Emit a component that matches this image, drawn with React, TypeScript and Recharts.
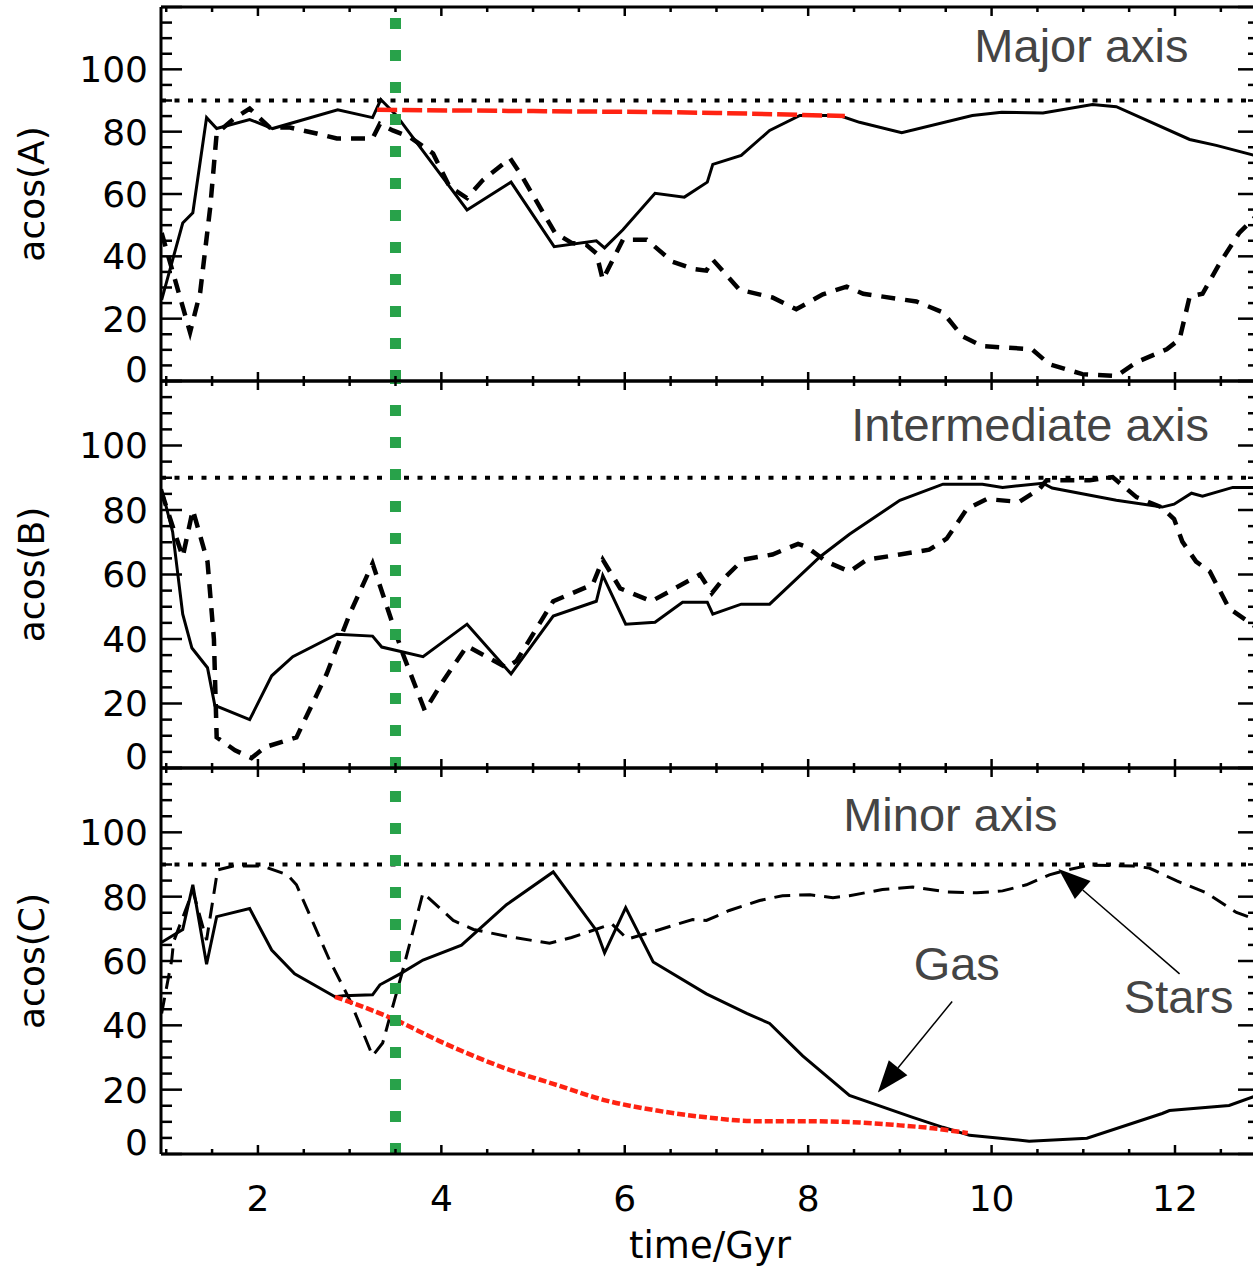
import React from "react";
import { LineChart, Line, XAxis, YAxis, ReferenceLine, ReferenceDot } from "recharts";

type Pt = [number, number];

// axis ticks (time in Gyr, angle in degrees)
const timeTicks = [1, 1.5, 2, 2.5, 3, 3.5, 4, 4.5, 5, 5.5, 6, 6.5, 7, 7.5, 8, 8.5, 9, 9.5, 10, 10.5, 11, 11.5, 12, 12.5];
const timeLabels = [2, 4, 6, 8, 10, 12];
const angleTicks = [0, 5, 10, 15, 20, 25, 30, 35, 40, 45, 50, 55, 60, 65, 70, 75, 80, 85, 90, 95, 100, 105, 110, 115, 120];
const angleLabels = [0, 20, 40, 60, 80, 100];
const timeDomain = [0.943, 12.916];
const angleDomain = [0, 120];
const perpendicular = 90;
const transitionTime = 3.5;

// major axis
const majorGas: Pt[] = [
  [0.95, 26], [1.18, 50.7], [1.29, 54], [1.44, 84.5], [1.55, 81], [1.91, 83.9], [2.16, 81], [2.87, 87],
  [3.25, 84.5], [3.34, 90.3], [3.51, 85.2], [4.28, 54.9], [4.76, 63.8], [5.23, 43.1], [5.69, 45], [5.78, 42.7],
  [5.98, 48.5], [6.33, 60.2], [6.65, 59], [6.9, 63.8], [6.96, 69.5], [7.27, 72.4], [7.58, 80.4], [7.91, 85.2],
  [8.34, 85.2], [8.56, 83], [9.02, 79.7], [9.79, 85.2], [10.11, 86.2], [10.56, 86], [11.1, 88.7], [11.36, 88],
  [12.16, 77.5], [12.45, 75.6], [12.92, 72]
];
const majorStars: Pt[] = [
  [0.95, 47.5], [1.26, 15.6], [1.37, 28.4], [1.48, 55.8], [1.55, 79.4], [1.73, 84], [1.91, 87.4], [2.13, 81.3],
  [2.35, 81.3], [2.64, 79.4], [2.86, 77.8], [3.25, 77.8], [3.33, 82.5], [3.47, 80.4], [3.66, 78.2], [3.91, 73],
  [4.09, 62.3], [4.28, 58.7], [4.45, 64.4], [4.75, 71.4], [4.86, 66.6], [5.24, 47.5], [5.42, 44.3], [5.58, 43.7],
  [5.69, 41], [5.76, 32.5], [5.98, 45.3], [6.24, 45.3], [6.52, 38.3], [6.74, 36], [6.89, 35.4], [6.96, 38.9],
  [7.25, 29.3], [7.61, 26.8], [7.87, 23], [8.16, 27.8], [8.42, 30.3], [8.6, 28], [9.18, 25.5], [9.47, 22],
  [9.68, 14.4], [9.9, 11.2], [10.44, 10.2], [10.63, 5.4], [10.99, 2.2], [11.36, 1.6], [11.58, 6], [11.91, 10.2],
  [12.05, 13.4], [12.16, 27.1], [12.3, 28], [12.49, 37.9], [12.7, 47.5], [12.92, 54]
];
const majorFit: Pt[] = [[3.3, 87], [5, 86.6], [7, 86], [8.4, 85]];

// intermediate axis
const interGas: Pt[] = [
  [0.95, 86.5], [1.07, 73.2], [1.18, 47.7], [1.28, 37.2], [1.45, 31.1], [1.53, 19.4], [1.91, 15], [2.15, 28.6],
  [2.38, 34.5], [2.86, 41.5], [3.25, 40.9], [3.35, 37.5], [3.8, 34.5], [4.28, 44.6], [4.76, 29.2], [5.22, 47.1],
  [5.69, 51.7], [5.76, 59.7], [6.01, 44.6], [6.33, 45.2], [6.63, 51.4], [6.9, 51.4], [6.96, 47.7], [7.27, 50.8],
  [7.58, 50.8], [8.13, 65.5], [8.45, 72.5], [9.0, 83], [9.47, 88], [9.9, 88], [10.12, 87], [10.56, 88.3],
  [10.66, 86.8], [11.36, 83], [11.86, 80.9], [11.99, 81.8], [12.18, 85.2], [12.3, 84.3], [12.63, 87], [12.92, 87]
];
const interStars: Pt[] = [
  [0.95, 85.5], [1.1, 72.3], [1.18, 65.5], [1.29, 80], [1.45, 64], [1.52, 40], [1.55, 9.5], [1.75, 5.5],
  [1.93, 3.1], [2.08, 6.5], [2.42, 9.5], [2.75, 29.2], [3.0, 47.7], [3.25, 63.4], [3.47, 44.6], [3.58, 35.4],
  [3.82, 17.8], [4.02, 27], [4.28, 37.8], [4.71, 31.1], [4.82, 33.2], [5.22, 51.7], [5.65, 56.9], [5.76, 64.6],
  [5.95, 55.7], [6.29, 51.7], [6.49, 54.8], [6.82, 60], [6.95, 54.2], [7.07, 58.5], [7.29, 64.6], [7.61, 66.2],
  [7.89, 69.5], [7.98, 68.6], [8.2, 64], [8.45, 60.9], [8.64, 64.6], [9.0, 66.2], [9.32, 67.7], [9.51, 71.1],
  [9.73, 80.3], [9.95, 83.4], [10.3, 82.5], [10.52, 86.5], [10.6, 89.2], [11.07, 89.2], [11.32, 90.2], [11.58, 84],
  [11.85, 80.9], [11.99, 77.2], [12.08, 70.2], [12.23, 64], [12.38, 60.9], [12.59, 49.5], [12.92, 43]
];

// minor axis
const minorGas: Pt[] = [
  [0.95, 65.8], [1.18, 69.8], [1.29, 83.7], [1.44, 59], [1.55, 73.8], [1.91, 76.3], [2.15, 63.4], [2.4, 56],
  [2.84, 48.9], [2.93, 49.2], [3.25, 49.5], [3.33, 52.6], [3.55, 56], [3.8, 60.3], [4.22, 64.9], [4.71, 77.5],
  [5.22, 87.7], [5.69, 69.5], [5.78, 62.5], [6.01, 76.6], [6.31, 59.7], [6.89, 49.8], [7.33, 43.7], [7.58, 40.6],
  [7.94, 30.5], [8.45, 18.2], [9.14, 11.4], [9.47, 8.3], [9.76, 5.8], [10.41, 4], [11.04, 4.9], [11.86, 12.6],
  [11.94, 13.5], [12.59, 15.1], [12.92, 18.5]
];
const minorStars: Pt[] = [
  [0.95, 43.7], [1.06, 60.3], [1.08, 66], [1.18, 73.5], [1.29, 81.8], [1.44, 66.5], [1.56, 88.3], [1.73, 89.5],
  [2.05, 89.5], [2.32, 86.8], [2.42, 83.7], [2.78, 60.3], [3.0, 48], [3.25, 30.5], [3.36, 34.5], [3.58, 57.2],
  [3.8, 81.2], [4.13, 72.6], [4.35, 69.8], [4.71, 67.7], [5.18, 65.5], [5.42, 67.3], [5.86, 71.5], [6.03, 66.8],
  [6.35, 69.5], [6.74, 72.9], [6.89, 72.6], [7.14, 75.7], [7.47, 78.8], [7.72, 80.3], [8.02, 80.6], [8.27, 79.7],
  [8.45, 80.3], [8.81, 82.2], [9.14, 83], [9.51, 81.5], [9.84, 81.2], [10.12, 81.8], [10.38, 83.7], [10.63, 86.8],
  [10.82, 88.3], [11.07, 89.8], [11.54, 89.5], [11.72, 88.9], [12.02, 84.9], [12.34, 81.2], [12.67, 75.1], [12.92, 72.5]
];
const minorFit: Pt[] = [
  [2.84, 48.9], [3.49, 41.8], [3.98, 35.1], [4.35, 30.5], [4.71, 26.5], [5.22, 21.8], [5.8, 16.6], [6.35, 13.5],
  [6.89, 11.4], [7.44, 10.2], [7.98, 10.2], [8.56, 9.8], [9.0, 8.9], [9.36, 8], [9.74, 6.5]
];

const ink = "#000";
const red = "#ff2312";
const green = "#28a24a";
const noteGrey = "#444";
const axisFont = "'DejaVu Sans', sans-serif";
const noteFont = "'Liberation Sans', Arial, sans-serif";

const PLOT_LEFT = 161;
const PLOT_RIGHT = 1259;
const CHART_W = 1300;

const rows = (pts: Pt[]) => pts.map(([t, a]) => ({ t, a }));

function xTick(dir: number, labelled: boolean) {
  return (props: any) => {
    const { x, y, payload } = props;
    const v = payload.value as number;
    const major = timeLabels.includes(v);
    return (
      <g>
        <line x1={x} x2={x} y1={y} y2={y + dir * (major ? 9 : 5)} stroke={ink} strokeWidth={2.5} />
        {labelled && major ? (
          <text x={x} y={y + 57} textAnchor="middle" fontSize={36} fontFamily={axisFont} fill={ink}>
            {v}
          </text>
        ) : null}
      </g>
    );
  };
}

function yTick(dir: number, labelled: boolean) {
  return (props: any) => {
    const { x, y, payload } = props;
    const v = payload.value as number;
    const major = v % 20 === 0;
    return (
      <g>
        <line x1={x} x2={x + dir * (major ? 21 : 11)} y1={y} y2={y} stroke={ink} strokeWidth={2.5} />
        {labelled && angleLabels.includes(v) ? (
          <text x={x - 13} y={y + (v === 0 ? -12 : 0)} dy="0.36em" textAnchor="end" fontSize={36} fontFamily={axisFont} fill={ink}>
            {v}
          </text>
        ) : null}
      </g>
    );
  };
}

const arrowShape = (p: any) => {
  const { x1, y1, x2, y2 } = p;
  const dx = x2 - x1;
  const dy = y2 - y1;
  const len = Math.hypot(dx, dy) || 1;
  const ux = dx / len;
  const uy = dy / len;
  const bx = x2 - ux * 32;
  const by = y2 - uy * 32;
  const pts = `${x2},${y2} ${bx - uy * 12},${by + ux * 12} ${bx + uy * 12},${by - ux * 12}`;
  return (
    <g>
      <line x1={x1} y1={y1} x2={bx} y2={by} stroke={ink} strokeWidth={1.5} />
      <polygon points={pts} fill={ink} />
    </g>
  );
};

const note = (text: string, size = 47) => (p: any) => (
  <text x={p.cx} y={p.cy} textAnchor="middle" fontSize={size} fontFamily={noteFont} fill={noteGrey}>
    {text}
  </text>
);

const xTitle = (p: any) => (
  <text
    x={p.viewBox.x + p.viewBox.width / 2}
    y={p.viewBox.y + 104}
    textAnchor="middle"
    fontSize={37}
    fontFamily={axisFont}
    fill={ink}
  >
    time/Gyr
  </text>
);

type PanelProps = {
  top: number;
  height: number;
  title: string;
  label: string;
  labelAt: Pt;
  gas: Pt[];
  stars: Pt[];
  fit?: Pt[];
  starsDash: string;
  starsWidth: number;
  fitDash: string;
  axisBelow?: boolean;
  children?: React.ReactNode;
};

function Panel({ top, height, title, label, labelAt, gas, stars, fit, starsDash, starsWidth, fitDash, axisBelow, children }: PanelProps) {
  const mTop = 10;
  const mBottom = axisBelow ? 1270 - (top + height) : 10;
  return (
    <div style={{ position: "absolute", left: 0, top: top - mTop }}>
      <LineChart
        width={CHART_W}
        height={height + mTop + mBottom}
        margin={{ top: mTop - 1, bottom: mBottom - 1, left: 0, right: CHART_W - PLOT_RIGHT - 1 }}
      >
        <XAxis
          xAxisId="b"
          type="number"
          dataKey="t"
          domain={timeDomain}
          allowDataOverflow
          ticks={timeTicks}
          interval={0}
          height={1}
          tickSize={0}
          tickMargin={0}
          tickLine={false}
          axisLine={{ stroke: ink, strokeWidth: 3 }}
          tick={xTick(-1, !!axisBelow)}
          label={axisBelow ? { value: "time/Gyr", content: xTitle } : undefined}
        />
        <XAxis
          xAxisId="t"
          orientation="top"
          type="number"
          dataKey="t"
          domain={timeDomain}
          allowDataOverflow
          ticks={timeTicks}
          interval={0}
          height={1}
          tickSize={0}
          tickMargin={0}
          tickLine={false}
          axisLine={{ stroke: ink, strokeWidth: 3 }}
          tick={xTick(1, false)}
        />
        <YAxis
          yAxisId="l"
          type="number"
          domain={angleDomain}
          allowDataOverflow
          ticks={angleTicks}
          interval={0}
          width={PLOT_LEFT}
          tickSize={0}
          tickMargin={0}
          tickLine={false}
          axisLine={{ stroke: ink, strokeWidth: 3 }}
          tick={yTick(1, true)}
          label={{
            value: label,
            content: (p: any) => {
              const cx = p.viewBox.x + 31;
              const cy = p.viewBox.y + p.viewBox.height / 2;
              return (
                <text
                  x={cx}
                  y={cy}
                  dy="0.36em"
                  transform={`rotate(-90 ${cx} ${cy})`}
                  textAnchor="middle"
                  fontSize={36}
                  fontFamily={axisFont}
                  fill={ink}
                >
                  {label}
                </text>
              );
            }
          }}
        />
        <YAxis
          yAxisId="r"
          orientation="right"
          type="number"
          domain={angleDomain}
          allowDataOverflow
          ticks={angleTicks}
          interval={0}
          width={1}
          tickSize={0}
          tickMargin={0}
          tickLine={false}
          axisLine={{ stroke: ink, strokeWidth: 3 }}
          tick={yTick(-1, false)}
        />

        <ReferenceLine xAxisId="b" yAxisId="l" y={perpendicular} stroke={ink} strokeWidth={4} strokeDasharray="5 8.5" />

        <Line xAxisId="b" yAxisId="l" data={rows(gas)} dataKey="a" type="linear" stroke={ink} strokeWidth={3} dot={false} isAnimationActive={false} />
        <Line
          xAxisId="b"
          yAxisId="l"
          data={rows(stars)}
          dataKey="a"
          type="linear"
          stroke={ink}
          strokeWidth={starsWidth}
          strokeDasharray={starsDash}
          dot={false}
          isAnimationActive={false}
        />
        {fit ? (
          <Line
            xAxisId="b"
            yAxisId="l"
            data={rows(fit)}
            dataKey="a"
            type="monotone"
            stroke={red}
            strokeWidth={4.5}
            strokeDasharray={fitDash}
            dot={false}
            isAnimationActive={false}
          />
        ) : null}

        <ReferenceLine xAxisId="b" yAxisId="l" x={transitionTime} stroke={green} strokeWidth={11} strokeDasharray="11 21" />

        <ReferenceDot xAxisId="b" yAxisId="l" x={labelAt[0]} y={labelAt[1]} r={1} ifOverflow="visible" shape={note(title)} />
        {children}
      </LineChart>
    </div>
  );
}

export default function App() {
  return (
    <div style={{ position: "absolute", left: 0, top: 0, width: 1253, height: 1270, overflow: "hidden", background: "#fff" }}>
      <Panel
        top={7}
        height={374}
        title="Major axis"
        label="acos(A)"
        labelAt={[10.98, 102.4]}
        gas={majorGas}
        stars={majorStars}
        fit={majorFit}
        starsDash="14 10"
        starsWidth={4.5}
        fitDash="20 5"
      />
      <Panel
        top={381}
        height={387}
        title="Intermediate axis"
        label="acos(B)"
        labelAt={[10.42, 101.5]}
        gas={interGas}
        stars={interStars}
        starsDash="14 10"
        starsWidth={4.5}
        fitDash="20 5"
      />
      <Panel
        top={768}
        height={386}
        title="Minor axis"
        label="acos(C)"
        labelAt={[9.55, 100.3]}
        gas={minorGas}
        stars={minorStars}
        fit={minorFit}
        starsDash="16 9"
        starsWidth={3}
        fitDash="8 3"
        axisBelow
      >
        <ReferenceDot xAxisId="b" yAxisId="l" x={9.62} y={54} r={1} ifOverflow="visible" shape={note("Gas")} />
        <ReferenceDot xAxisId="b" yAxisId="l" x={12.04} y={43.7} r={1} ifOverflow="visible" shape={note("Stars")} />
        <ReferenceLine
          xAxisId="b"
          yAxisId="l"
          segment={[{ x: 9.57, y: 47.4 }, { x: 8.76, y: 19.1 }]}
          ifOverflow="visible"
          shape={arrowShape}
        />
        <ReferenceLine
          xAxisId="b"
          yAxisId="l"
          segment={[{ x: 12.05, y: 56 }, { x: 10.73, y: 88.6 }]}
          ifOverflow="visible"
          shape={arrowShape}
        />
      </Panel>
    </div>
  );
}
